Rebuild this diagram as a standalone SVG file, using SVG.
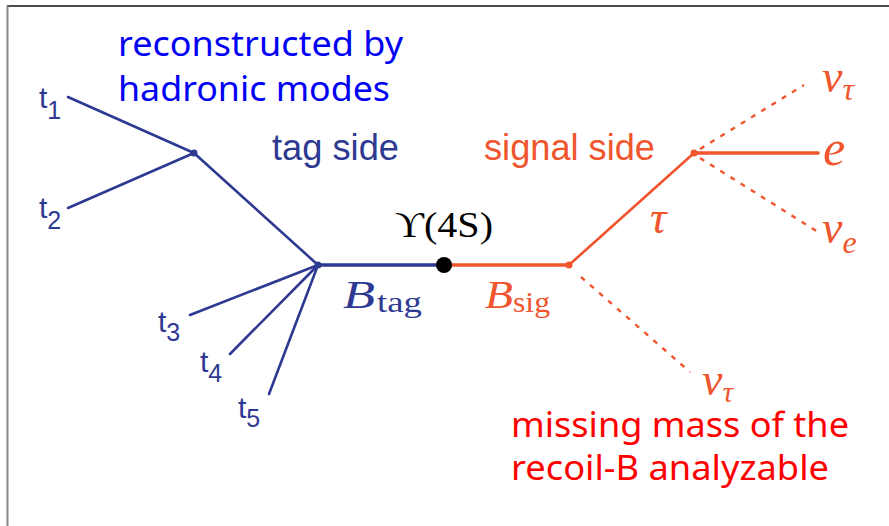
<svg xmlns="http://www.w3.org/2000/svg" width="889" height="526" viewBox="0 0 889 526">
<style>
.bl{stroke:#2E3A92;stroke-width:2.6;fill:none;stroke-linecap:round}
.or{stroke:#F0552D;stroke-width:2.6;fill:none;stroke-linecap:round}
.dash{stroke:#F0552D;stroke-width:2.4;fill:none;stroke-dasharray:5 7}
.tl{font-family:"Liberation Sans",Arial,sans-serif;fill:#2E3A92;font-size:30px}
.sub{font-size:25px}
.note{font-family:"Noto Sans","Open Sans",sans-serif;font-size:35px}
.math{font-family:"Liberation Serif","DejaVu Serif",serif;font-style:italic}
.side{font-family:"Liberation Sans",Arial,sans-serif;font-size:36px}
</style>
<rect x="0" y="0" width="889" height="526" fill="#fff"/>
<line x1="7" y1="6" x2="889" y2="6" stroke="#111" stroke-width="1.5"/>
<line x1="7.5" y1="6" x2="7.5" y2="526" stroke="#888" stroke-width="2"/>
<g id="connectors">
<line class="bl" x1="68" y1="97" x2="194" y2="153"/>
<line class="bl" x1="68" y1="208" x2="194" y2="153"/>
<line class="bl" x1="194" y1="153" x2="318" y2="265"/>
<line class="bl" x1="190" y1="315" x2="318" y2="265"/>
<line class="bl" x1="230" y1="354" x2="318" y2="265"/>
<line class="bl" x1="269" y1="394" x2="318" y2="265"/>
<line class="bl" x1="318" y1="265" x2="444" y2="265" style="stroke-width:3.6"/>
<line class="or" x1="444" y1="265" x2="569" y2="265" style="stroke-width:3.6"/>
<line class="or" x1="569" y1="265" x2="694" y2="153"/>
<line class="or" x1="694" y1="153" x2="818" y2="153" style="stroke-width:3.6"/>
<line class="dash" x1="700" y1="149" x2="804" y2="85"/>
<line class="dash" x1="700" y1="158" x2="818" y2="232"/>
<line class="dash" x1="581" y1="277" x2="690" y2="372"/>
</g>
<g id="v1"><circle cx="194" cy="153" r="3.5" fill="#2E3A92"/></g>
<g id="v2"><circle cx="318" cy="265" r="3.5" fill="#2E3A92"/></g>
<g id="upsilon"><circle cx="444" cy="265" r="8" fill="#000"/>
<text x="395" y="237" font-family="'Liberation Serif','DejaVu Serif',serif" font-size="35" fill="#000" textLength="98" lengthAdjust="spacingAndGlyphs">ϒ(4S)</text></g>
<g id="v3"><circle cx="569" cy="265" r="3.5" fill="#F0552D"/></g>
<g id="v4"><circle cx="694" cy="153" r="3.5" fill="#F0552D"/></g>
<g id="t1"><text class="tl" x="39" y="108">t<tspan class="sub" dy="11">1</tspan></text></g>
<g id="t2"><text class="tl" x="39" y="218">t<tspan class="sub" dy="11">2</tspan></text></g>
<g id="t3"><text class="tl" x="158" y="332">t<tspan class="sub" dy="9">3</tspan></text></g>
<g id="t4"><text class="tl" x="200" y="372">t<tspan class="sub" dy="10">4</tspan></text></g>
<g id="t5"><text class="tl" x="238" y="418">t<tspan class="sub" dy="9">5</tspan></text></g>
<g id="btag"><text y="308" fill="#2E3A92" font-family="'Liberation Serif','DejaVu Serif',serif"><tspan x="343" font-size="39" font-style="italic" textLength="32" lengthAdjust="spacingAndGlyphs">B</tspan><tspan x="377" y="312" font-size="29" textLength="45" lengthAdjust="spacingAndGlyphs">tag</tspan></text></g>
<g id="bsig"><text y="308" fill="#F0552D" font-family="'Liberation Serif','DejaVu Serif',serif"><tspan x="485" font-size="39" font-style="italic" textLength="28" lengthAdjust="spacingAndGlyphs">B</tspan><tspan x="513" y="312" font-size="29" textLength="37" lengthAdjust="spacingAndGlyphs">sig</tspan></text></g>
<g id="tau"><text class="math" x="650" y="233" fill="#F0552D" font-size="46">τ</text></g>
<g id="e"><text class="math" x="823" y="165" fill="#F0552D" font-size="50">e</text></g>
<g id="nutau1"><text class="math" x="822" y="92" fill="#F0552D" font-size="46">ν<tspan font-size="32" dy="8">τ</tspan></text></g>
<g id="nue"><text class="math" x="822" y="243" fill="#F0552D" font-size="46">ν<tspan font-size="32" dy="10">e</tspan></text></g>
<g id="nutau2"><text class="math" x="702" y="395" fill="#F0552D" font-size="46">ν<tspan font-size="30" dy="7">τ</tspan></text></g>
<g id="reco"><text class="note" fill="#0000F5" x="118" y="56" textLength="285" lengthAdjust="spacingAndGlyphs">reconstructed by</text>
<text class="note" fill="#0000F5" x="118" y="101" textLength="272" lengthAdjust="spacingAndGlyphs">hadronic modes</text></g>
<g id="tagside"><text class="side" x="272" y="160" fill="#2E3A92" textLength="127" lengthAdjust="spacingAndGlyphs">tag side</text></g>
<g id="sigside"><text class="side" x="484" y="160" fill="#F0552D" textLength="171" lengthAdjust="spacingAndGlyphs">signal side</text></g>
<g id="missing"><text class="note" fill="#FF0000" x="511" y="437" textLength="338" lengthAdjust="spacingAndGlyphs">missing mass of the</text>
<text class="note" fill="#FF0000" x="511" y="480" textLength="318" lengthAdjust="spacingAndGlyphs">recoil-B analyzable</text></g>
</svg>
